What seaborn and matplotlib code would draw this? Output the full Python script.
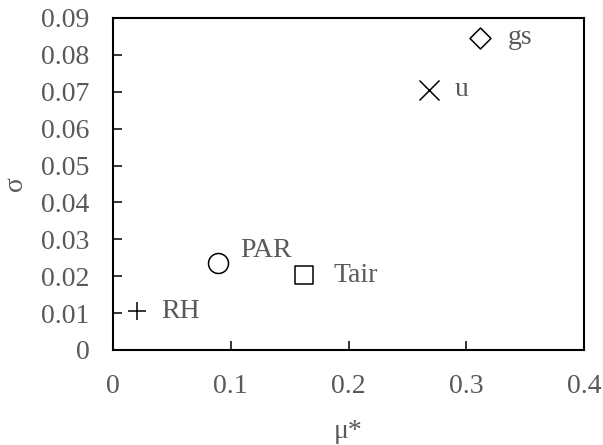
import matplotlib
matplotlib.use("Agg")
import matplotlib.pyplot as plt
import seaborn as sns
import pandas as pd

# sensitivity results (Morris screening)
names = ["RH", "PAR", "Tair", "u", "gs"]
mu_star = [0.020, 0.0895, 0.1625, 0.268, 0.312]
sigma = [0.0105, 0.0235, 0.0203, 0.0706, 0.0847]
markers = ["+", "o", "s", "x", "D"]
sizes = [150, 207, 169, 207, 114]
label_offsets = [(18, 0), (16, 9), (21, 0), (19, 0), (20, 0)]

df = pd.DataFrame({"name": names, "mu": mu_star, "sigma": sigma})

sns.set_style("ticks")
plt.rcParams["font.family"] = ["Liberation Serif", "DejaVu Serif"]
grey = "#595959"

fig = plt.figure(figsize=(6.03, 4.45), dpi=100)
ax = fig.add_axes([0.1874, 0.2135, 0.7811, 0.7461])

for i, row in df.iterrows():
    m = markers[i]
    if m in ["+", "x"]:
        sns.scatterplot(x=[row.mu], y=[row.sigma], marker=m, s=sizes[i],
                        color="black", linewidth=1.1, ax=ax, zorder=3)
    else:
        sns.scatterplot(x=[row.mu], y=[row.sigma], marker=m, s=sizes[i],
                        facecolor="white", edgecolor="black", linewidth=1.1,
                        ax=ax, zorder=3)
    ax.annotate(row["name"], (row.mu, row.sigma), xytext=label_offsets[i],
                textcoords="offset points", va="center", ha="left",
                fontsize=20, color=grey)

ax.set_xlim(0, 0.4)
ax.set_ylim(0, 0.09)
ax.set_xticks([0, 0.1, 0.2, 0.3, 0.4])
ax.set_xticklabels(["0", "0.1", "0.2", "0.3", "0.4"])
ax.set_yticks([i / 100 for i in range(10)])
ax.set_yticklabels(["0"] + ["0.0%d" % i for i in range(1, 10)])

for s in ax.spines.values():
    s.set_visible(True)
    s.set_linewidth(1.5)
    s.set_color("black")

ax.tick_params(direction="in", length=6.5, width=1.1, color="black",
               labelsize=20, labelcolor=grey, pad=17)

ax.set_xlabel("μ*", fontsize=20, color=grey, va="center")
ax.set_ylabel("σ", fontsize=20, color=grey, va="center")
ax.xaxis.set_label_coords(0.5, -0.244)
ax.yaxis.set_label_coords(-0.208, 0.5)

fig.savefig("out.png", dpi=100)
